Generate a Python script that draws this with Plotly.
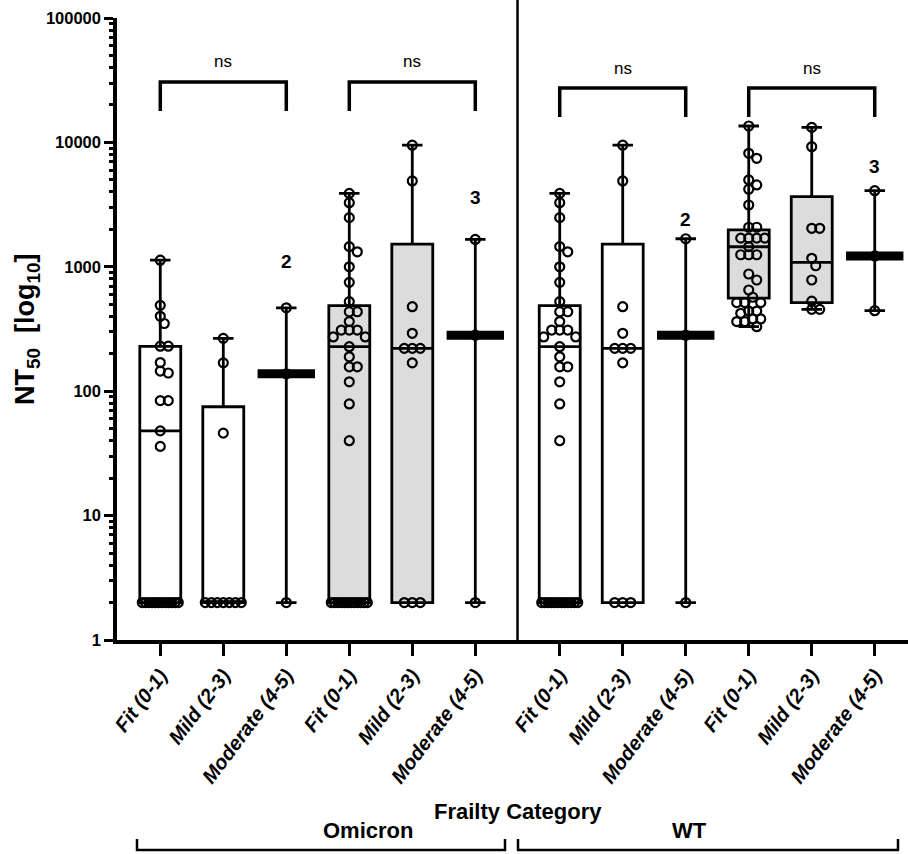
import numpy as np
import plotly.graph_objects as go

# ---------------- data ----------------
categories = ["Fit (0-1)", "Mild (2-3)", "Moderate (4-5)"] * 4
variants = ["Omicron", "WT"]

omi_fit_1 = [1130, 490, 400, 350, 230, 230, 170, 145, 140, 84, 84, 48, 36] + [2] * 12
omi_mild_1 = [266, 169, 46] + [2] * 7
omi_mod_1 = [468, 138, 2]
omi_fit_2 = [3890, 3275, 2483, 1452, 1320, 1000, 750, 525, 435, 435, 363, 310, 310, 310,
             273, 273, 228, 189, 157, 157, 119, 79, 40] + [2] * 12
omi_mild_2 = [9500, 4900, 478, 292, 221, 221, 221, 169, 2, 2, 2]
omi_mod_2 = [1660, 282, 2]
wt_fit_1 = [3890, 3275, 2483, 1452, 1320, 1000, 750, 525, 435, 435, 363, 310, 310, 310,
            273, 273, 228, 189, 157, 157, 119, 79, 40] + [2] * 12
wt_mild_1 = [9500, 4900, 478, 292, 221, 221, 221, 169, 2, 2, 2]
wt_mod_1 = [1680, 282, 2]
wt_fit_2 = [13550, 8170, 7450, 4990, 4550, 4200, 3140, 2080, 2080, 1700, 1700, 1700, 1700,
            1452, 1250, 1250, 1250, 875, 783, 651, 569, 515, 515, 515, 441, 441, 423,
            381, 381, 363, 363, 330]
wt_mild_2 = [13200, 9240, 2040, 2040, 1170, 1020, 783, 530, 455, 455]
wt_mod_2 = [4090, 1222, 444]

group_values = [omi_fit_1, omi_mild_1, omi_mod_1, omi_fit_2, omi_mild_2, omi_mod_2,
                wt_fit_1, wt_mild_1, wt_mod_1, wt_fit_2, wt_mild_2, wt_mod_2]

# box summaries (min to max whiskers)
box_q1 = [2, 2, 138, 2, 2, 282, 2, 2, 282, 560, 515, 1222]
box_median = [48, 2, 138, 228, 221, 282, 228, 221, 282, 1450, 1087, 1222]
box_q3 = [229, 75, 138, 487, 1520, 282, 487, 1520, 282, 1980, 3660, 1222]
box_min = [2, 2, 2, 2, 2, 2, 2, 2, 2, 330, 455, 444]
box_max = [1130, 266, 468, 3890, 9500, 1660, 3890, 9500, 1680, 13550, 13200, 4090]
grey_groups = [3, 4, 9, 10]
small_groups = [2, 5, 8, 11]
n_labels = ["2", "3", "2", "3"]
n_label_level = [1095, 3640, 2380, 6380]
sig_pairs = [(0, 2), (3, 5), (6, 8), (9, 11)]
sig_text = ["ns", "ns", "ns", "ns"]

# ---------------- layout constants ----------------
W, H = 908, 854
L, R, T, B = 117, 0, 18, 214
PW, PH = W - L - R, H - T - B
GAP = 0.34
xpos = [i + (GAP if i >= 6 else 0) for i in range(12)]
X0, X1 = -0.687, 11.868
PX_X = PW / (X1 - X0)
PX_Y = PH / 5.0
ARIAL = "Liberation Sans, Arial, Helvetica, sans-serif"
BOXW = 0.65


def px2x(px):
    return (px - L) / PW


def px2y(py):
    return (H - B - py) / PH


def swarm(vals, halfw_px=18.0, d=8.0):
    vals = np.asarray(vals, float)
    ys = np.log10(vals) * PX_Y
    offs = np.zeros(len(vals))
    placed = []
    uniq, counts = np.unique(vals, return_counts=True)
    big = set(u for u, c in zip(uniq, counts) if c >= 5)
    for u in big:
        idx = np.where(vals == u)[0]
        offs[idx] = np.linspace(-halfw_px, halfw_px, len(idx))
        for i in idx:
            placed.append((offs[i], ys[i]))
    cands = [0.0]
    for k in range(1, 6):
        cands += [k * d * 0.5, -k * d * 0.5]
    cands = [c for c in cands if abs(c) <= halfw_px]
    for i in np.argsort(-vals, kind="stable"):
        if vals[i] in big:
            continue
        best, bestd = 0.0, -1
        for c in cands:
            md = min([np.hypot(c - px, ys[i] - py) for px, py in placed], default=1e9)
            if md >= d:
                best = c
                break
            if md > bestd:
                bestd, best = md, c
        offs[i] = best
        placed.append((best, ys[i]))
    return offs / PX_X


fig = go.Figure()

for g in range(12):
    fig.add_trace(go.Box(
        x=[xpos[g]], q1=[box_q1[g]], median=[box_median[g]], q3=[box_q3[g]],
        lowerfence=[box_min[g]], upperfence=[box_max[g]],
        orientation="v", width=BOXW, whiskerwidth=0.5, boxpoints=False,
        fillcolor="#dcdcdc" if g in grey_groups else "white",
        line=dict(color="black", width=2.8), showlegend=False, hoverinfo="skip"))

for g in small_groups:
    fig.add_trace(go.Scatter(
        x=[xpos[g]], y=[box_median[g]], mode="markers",
        marker=dict(symbol="line-ew", size=41, color="black",
                    line=dict(width=9, color="black")),
        showlegend=False, hoverinfo="skip"))

for g in range(12):
    vals = group_values[g]
    offs = swarm(vals)
    fig.add_trace(go.Scatter(
        x=[xpos[g] + o for o in offs], y=vals, mode="markers",
        marker=dict(symbol="circle-open", size=9, color="black",
                    line=dict(width=2.2, color="black")),
        showlegend=False, hoverinfo="skip"))

# significance brackets
bracket_levels = [(30600, 17900, 4.654), (30600, 17900, 4.654),
                  (27400, 16000, 4.598), (27400, 16000, 4.598)]
for (a, b), txt, (top, leg, ty) in zip(sig_pairs, sig_text, bracket_levels):
    fig.add_trace(go.Scatter(
        x=[xpos[a], xpos[a], xpos[b], xpos[b]], y=[leg, top, top, leg],
        mode="lines", line=dict(color="black", width=3.5),
        showlegend=False, hoverinfo="skip"))
    fig.add_annotation(x=(xpos[a] + xpos[b]) / 2, y=ty, text=txt, showarrow=False,
                       font=dict(family=ARIAL, size=17, color="black"))

for g, lab, lev in zip(small_groups, n_labels, n_label_level):
    fig.add_annotation(x=xpos[g], y=np.log10(lev), text=lab, showarrow=False,
                       font=dict(family=ARIAL, size=19, color="black", weight="bold"))

# divider between variants
mid = (xpos[5] + xpos[6]) / 2
fig.add_shape(type="line", xref="x", yref="paper", x0=mid, x1=mid, y0=0, y1=px2y(0),
              line=dict(color="black", width=2.5))

# bottom brackets
for (xa, xb) in [(137, 505), (518, 898)]:
    fig.add_shape(type="path", xref="paper", yref="paper",
                  path=f"M {px2x(xa)},{px2y(839)} L {px2x(xa)},{px2y(850)} "
                       f"L {px2x(xb)},{px2y(850)} L {px2x(xb)},{px2y(839)}",
                  line=dict(color="black", width=2.5))

fig.add_annotation(xref="paper", yref="paper", x=px2x(517.5), y=px2y(811),
                   text="Frailty Category", showarrow=False, yanchor="middle",
                   font=dict(family=ARIAL, size=22, color="black", weight="bold"))
for name, cx in zip(variants, [321, 709]):
    fig.add_annotation(xref="paper", yref="paper", x=px2x(cx), y=px2y(830),
                       text=name, showarrow=False, yanchor="middle",
                       font=dict(family=ARIAL, size=22, color="black", weight="bold"))

fig.add_annotation(xref="paper", yref="paper", x=px2x(27), y=px2y(329),
                   text="NT<sub>50</sub>  [log<sub>10</sub>]", textangle=-90,
                   showarrow=False, xanchor="center", yanchor="middle",
                   font=dict(family=ARIAL, size=27, color="black", weight="bold"))

ymajor = [1, 10, 100, 1000, 10000, 100000]
yminor = [k * 10 ** d for d in range(5) for k in range(2, 10)]

fig.update_layout(
    width=W, height=H, margin=dict(l=L, r=R, t=T, b=B),
    paper_bgcolor="white", plot_bgcolor="white", boxmode="overlay",
    xaxis=dict(range=[X0, X1], tickvals=xpos, ticktext=categories, tickangle=-53,
               showline=True, linecolor="black", linewidth=3.5, ticks="outside",
               ticklen=12, tickwidth=3, tickcolor="black", showgrid=False, zeroline=False,
               tickfont=dict(family=ARIAL, size=20, color="black", weight="bold",
                             style="italic")),
    yaxis=dict(type="log", range=[0, 5], tickvals=ymajor,
               ticktext=[str(v) for v in ymajor], showline=True, linecolor="black",
               linewidth=3.5, ticks="outside", ticklen=9, tickwidth=3,
               tickcolor="black", showgrid=False, zeroline=False,
               tickfont=dict(family=ARIAL, size=16.5, color="black", weight="bold"),
               minor=dict(tickvals=yminor, ticks="outside", ticklen=4, tickwidth=2.5,
                          tickcolor="black", showgrid=False)),
)

fig.write_html("out.html", config={"displayModeBar": False},
               post_script="document.body.style.margin='0px';")
